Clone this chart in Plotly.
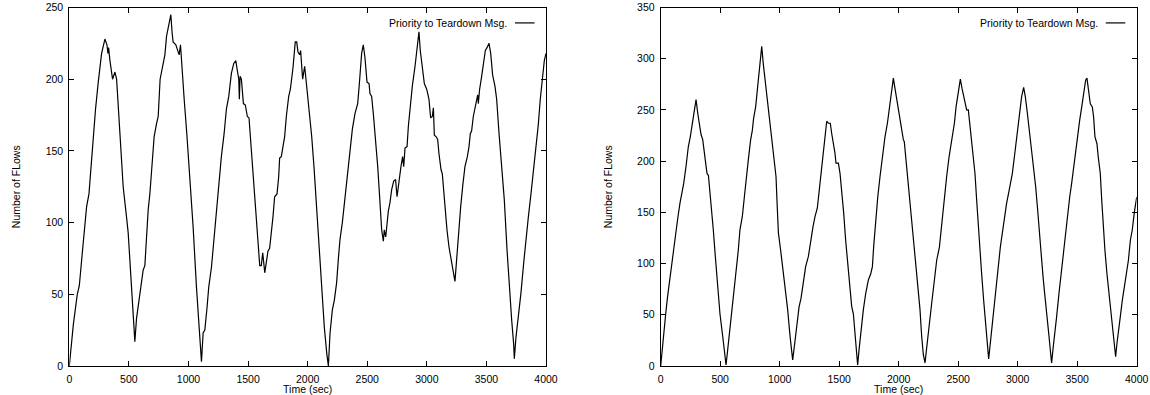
import plotly.graph_objects as go

# ---------------- data ----------------
left_time = [0,34,67,84,117,145,165,193,220,243,
             271,299,316,324,330,341,363,383,397,411,
             430,452,480,494,517,531,550,564,584,600,
             620,634,648,662,676,695,712,732,746,762,
             788,802,816,830,843,852,863,871,894,913,
             922,933,941,964,986,1011,1039,1067,1089,1109,
             1123,1137,1156,1170,1193,1212,1234,1254,1276,1299,
             1318,1338,1360,1380,1397,1410,1422,1427,1433,1444,
             1461,1477,1494,1508,1528,1550,1570,1584,1598,1611,
             1623,1640,1653,1667,1681,1695,1709,1723,1743,1757,
             1765,1779,1793,1807,1821,1841,1855,1877,1896,1908,
             1919,1933,1941,1958,1975,1989,2011,2034,2053,2070,
             2090,2104,2123,2140,2160,2174,2188,2207,2224,2243,
             2257,2271,2291,2313,2336,2355,2375,2397,2420,2434,
             2453,2467,2481,2498,2515,2523,2537,2551,2571,2588,
             2604,2621,2635,2643,2655,2666,2677,2691,2705,2722,
             2738,2750,2766,2783,2797,2806,2817,2834,2845,2862,
             2878,2901,2920,2934,2945,2962,2979,2999,3018,3032,
             3046,3055,3063,3077,3091,3102,3119,3130,3138,3152,
             3169,3186,3208,3228,3236,3250,3264,3284,3303,3320,
             3340,3354,3365,3376,3390,3410,3427,3432,3443,3460,
             3477,3491,3505,3522,3536,3552,3572,3586,3606,3628,
             3650,3673,3695,3712,3729,3734,3748,3768,3790,3813,
             3832,3852,3874,3896,3913,3935,3952,3969,3986,4000]
left_flows = [0,29,50,56,86,111,120,153,179,198,
              218,228,224,218,222,213,200,205,200,181,
              155,125,104,93,62,41,17,33,46,53,
              67,70,93,109,120,141,160,169,174,200,
              213,217,230,236,239,245,232,226,224,219,
              217,224,212,186,162,134,97,55,25,3,
              23,25,41,55,69,88,107,125,146,162,
              179,188,204,211,213,206,200,186,202,200,
              183,182,174,173,151,123,104,88,70,70,
              79,65,74,80,82,91,104,118,120,132,
              145,146,153,160,174,188,193,208,226,226,
              219,217,220,200,209,197,181,160,139,116,
              93,76,48,27,9,0,23,39,46,58,
              74,88,100,118,137,153,165,176,183,197,
              218,224,215,198,197,190,188,176,158,139,
              118,95,87,95,90,102,108,114,123,129,
              130,118,130,139,146,139,152,153,167,182,
              195,209,223,233,220,209,197,193,186,173,
              174,180,161,160,158,148,137,134,125,111,
              95,83,72,62,59,74,90,111,127,139,
              146,153,162,164,174,181,189,183,193,202,
              213,220,222,225,218,203,195,186,162,139,
              116,81,51,32,15,5,20,34,51,72,
              90,104,120,137,153,168,186,200,213,218]

right_time = [0,22,42,58,78,98,120,143,162,176,
              193,213,232,249,266,283,297,311,325,339,
              353,367,378,389,401,415,428,442,457,476,
              498,521,540,549,563,582,602,619,639,652,
              666,686,703,722,736,756,770,781,798,815,
              832,849,862,877,893,910,927,941,955,969,
              977,989,1008,1025,1045,1067,1087,1101,1109,1123,
              1143,1163,1179,1199,1218,1241,1260,1280,1297,1316,
              1330,1347,1361,1381,1395,1409,1425,1437,1451,1464,
              1473,1493,1507,1521,1538,1554,1571,1591,1605,1619,
              1633,1647,1655,1667,1683,1703,1723,1745,1765,1779,
              1790,1807,1824,1843,1863,1885,1905,1922,1941,1955,
              1966,1983,2003,2019,2039,2047,2059,2075,2089,2103,
              2123,2143,2159,2179,2193,2207,2221,2235,2255,2277,
              2300,2319,2342,2361,2384,2403,2423,2440,2454,2468,
              2482,2501,2518,2532,2549,2563,2571,2585,2599,2613,
              2630,2641,2655,2669,2683,2697,2714,2731,2745,2756,
              2767,2784,2801,2818,2837,2854,2871,2888,2907,2924,
              2941,2955,2972,2991,3005,3019,3033,3050,3064,3081,
              3098,3117,3134,3151,3165,3179,3196,3213,3229,3246,
              3263,3277,3285,3299,3313,3327,3347,3364,3383,3403,
              3420,3437,3453,3470,3487,3504,3521,3538,3554,3571,
              3582,3599,3610,3627,3638,3649,3666,3677,3694,3706,
              3719,3733,3750,3767,3784,3798,3809,3823,3834,3846,
              3862,3879,3896,3913,3930,3947,3963,3980,4000]
right_flows = [0,29,51,68,87,107,126,144,159,167,
               178,195,214,224,237,248,260,247,235,226,
               221,208,195,188,186,169,152,133,110,81,
               51,29,11,1,16,37,55,71,94,113,
               133,146,165,188,201,221,230,242,253,273,
               292,312,295,279,260,243,227,211,198,185,
               162,130,113,97,77,55,29,11,6,19,
               38,58,66,84,97,107,123,136,146,154,
               169,188,204,221,239,237,237,227,219,208,
               198,198,188,172,149,123,100,77,58,51,
               32,12,1,16,35,55,71,84,90,97,
               117,143,165,185,204,224,237,253,269,281,
               273,260,247,234,221,219,204,185,162,143,
               120,97,77,55,29,11,3,19,38,61,
               84,103,116,139,162,185,204,217,230,237,
               253,266,280,271,263,256,250,250,234,221,
               204,188,162,136,113,90,64,38,19,7,
               19,38,58,77,100,116,130,146,159,169,
               178,188,204,224,237,253,263,272,263,247,
               230,214,195,175,156,133,110,87,68,51,
               29,12,3,19,32,48,71,90,110,130,
               150,165,178,195,208,227,240,253,266,279,
               281,266,256,253,243,224,217,204,188,162,
               136,113,90,71,51,38,25,9,22,35,
               48,64,77,87,103,123,133,150,165]

x_ticks = [0, 500, 1000, 1500, 2000, 2500, 3000, 3500, 4000]
left_y_ticks = [0, 50, 100, 150, 200, 250]
right_y_ticks = [0, 50, 100, 150, 200, 250, 300, 350]
series_name = "Priority to Teardown Msg."
x_title = "Time (sec)"
y_title = "Number of FLows"

# ---------------- figure ----------------
W, H = 1150, 395
FONT = "Liberation Sans, Arial, Helvetica, sans-serif"
FS = 10.5

fig = go.Figure()
fig.add_trace(go.Scatter(x=left_time, y=left_flows, mode="lines", name=series_name,
                         line=dict(color="black", width=1.2), xaxis="x", yaxis="y",
                         showlegend=False))
fig.add_trace(go.Scatter(x=right_time, y=right_flows, mode="lines", name=series_name,
                         line=dict(color="black", width=1.2), xaxis="x2", yaxis="y2",
                         showlegend=False))

def px_x(p):
    return p / W

def px_y(p):
    return 1 - p / H

top, bottom = 7.5, 366.0
left_dom = [px_x(69.3), px_x(546.0)]
right_dom = [px_x(660.7), px_x(1136.7)]
y_dom = [px_y(bottom), px_y(top)]

axis_common = dict(showline=True, linecolor="black", linewidth=1, mirror="ticks",
                   ticks="inside", ticklen=5, tickwidth=1, tickcolor="black",
                   showgrid=False, zeroline=False, automargin=False,
                   tickfont=dict(family=FONT, size=FS, color="black"))

fig.update_layout(
    width=W, height=H,
    margin=dict(l=0, r=0, t=0, b=0, pad=0),
    paper_bgcolor="white", plot_bgcolor="white",
    font=dict(family=FONT, size=FS, color="black"),
    showlegend=False,
    xaxis=dict(domain=left_dom, anchor="y", range=[0, 4000], tickvals=x_ticks,
               title=dict(text=x_title, standoff=0, font=dict(family=FONT, size=FS)),
               ticklabelstandoff=3, **axis_common),
    yaxis=dict(domain=y_dom, anchor="x", range=[0, 250], tickvals=left_y_ticks,
               title=dict(text=y_title, standoff=22, font=dict(family=FONT, size=FS)),
               ticklabelstandoff=3, **axis_common),
    xaxis2=dict(domain=right_dom, anchor="y2", range=[0, 4000], tickvals=x_ticks,
                title=dict(text=x_title, standoff=0, font=dict(family=FONT, size=FS)),
                ticklabelstandoff=3, **axis_common),
    yaxis2=dict(domain=y_dom, anchor="x2", range=[0, 350], tickvals=right_y_ticks,
                title=dict(text=y_title, standoff=22, font=dict(family=FONT, size=FS)),
                ticklabelstandoff=3, **axis_common),
)

# gnuplot-style key: text then line sample, top-right inside each plot
for xa, ya in (("x", "y"), ("x2", "y2")):
    fig.add_annotation(text=series_name, xref=f"{xa} domain", yref=f"{ya} domain",
                       x=0.922, y=0.957, xanchor="right", yanchor="middle",
                       showarrow=False, font=dict(family=FONT, size=FS, color="black"))
    fig.add_shape(type="line", xref=f"{xa} domain", yref=f"{ya} domain",
                  x0=0.935, x1=0.976, y0=0.957, y1=0.957,
                  line=dict(color="black", width=1.2))

fig.write_html("out.html",
               config={"displayModeBar": False, "staticPlot": True},
               post_script="document.body.style.margin='0';document.body.style.overflow='hidden';")
